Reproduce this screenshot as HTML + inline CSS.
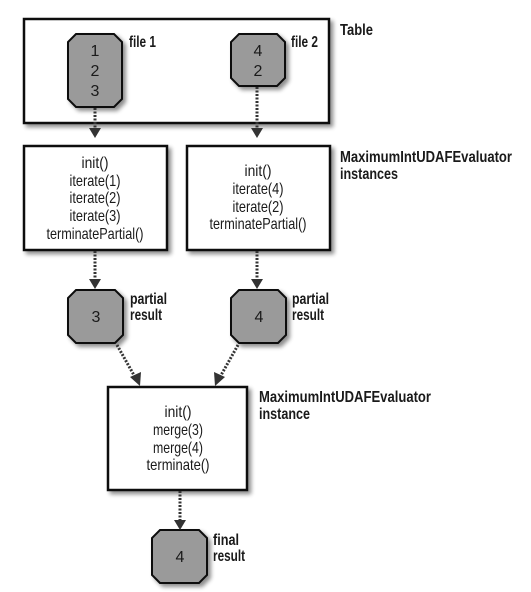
<!DOCTYPE html>
<html><head><meta charset="utf-8"><style>
html,body{margin:0;padding:0;background:#fff;}
svg{display:block;}
text{font-family:"Liberation Sans",sans-serif;fill:#1a1a1a;}
.b{font-weight:bold;font-size:16px;}
.n{font-size:16px;}
</style></head><body>
<svg width="531" height="592" viewBox="0 0 531 592" xmlns="http://www.w3.org/2000/svg">
<defs>
<filter id="sh" x="-10%" y="-10%" width="130%" height="130%">
<feGaussianBlur in="SourceAlpha" stdDeviation="2"/>
<feOffset dx="3" dy="3"/>
<feComponentTransfer><feFuncA type="linear" slope="0.45"/></feComponentTransfer>
<feMerge><feMergeNode/><feMergeNode in="SourceGraphic"/></feMerge>
</filter>
</defs>
<g stroke="#111" stroke-width="2.5" fill="#fff" filter="url(#sh)">
<rect x="24" y="19" width="305" height="104"/>
<rect x="24" y="146" width="143" height="104"/>
<rect x="187" y="146" width="143" height="104"/>
<rect x="108" y="387" width="139" height="103"/>
</g>
<g stroke="#111" stroke-width="2" fill="#9a9a9a" filter="url(#sh)">
<polygon points="76,34 114,34 122,42 122,99 114,107 76,107 68,99 68,42"/>
<polygon points="239,34 277,34 285,42 285,78 277,86 239,86 231,78 231,42"/>
<polygon points="76,290 115,290 123,298 123,335 115,343 76,343 68,335 68,298"/>
<polygon points="239,290 278,290 286,298 286,335 278,343 239,343 231,335 231,298"/>
<polygon points="160,530 199,530 207,538 207,575 199,583 160,583 152,575 152,538"/>
</g>
<g stroke="#333" stroke-width="3" stroke-dasharray="2,1.5" fill="none">
<line x1="95" y1="108" x2="95" y2="129"/>
<line x1="257" y1="87" x2="257" y2="129"/>
<line x1="95" y1="251" x2="95" y2="280"/>
<line x1="257" y1="251" x2="257" y2="280"/>
<line x1="117" y1="345" x2="135" y2="377"/>
<line x1="238" y1="345" x2="220" y2="377"/>
<line x1="180" y1="491" x2="180" y2="521"/>
</g>
<g fill="#333">
<polygon points="89,128 101,128 95,138"/>
<polygon points="251,128 263,128 257,138"/>
<polygon points="89,279 101,279 95,289"/>
<polygon points="251,279 263,279 257,289"/>
<polygon points="130,377 141,372 140,386"/>
<polygon points="225,377 214,372 215,386"/>
<polygon points="174,520 186,520 180,530"/>
</g>
<g class="n" text-anchor="middle" lengthAdjust="spacingAndGlyphs">
<text x="95" y="56">1</text><text x="95" y="76">2</text><text x="95" y="96">3</text>
<text x="258" y="56">4</text><text x="258" y="76">2</text>
<text x="96" y="322">3</text><text x="259" y="322">4</text>
<text x="180" y="562">4</text>
<text x="95" y="168" textLength="27" lengthAdjust="spacingAndGlyphs">init()</text>
<text x="95" y="186" textLength="51" lengthAdjust="spacingAndGlyphs">iterate(1)</text>
<text x="95" y="203" textLength="51" lengthAdjust="spacingAndGlyphs">iterate(2)</text>
<text x="95" y="221" textLength="51" lengthAdjust="spacingAndGlyphs">iterate(3)</text>
<text x="95" y="239" textLength="97" lengthAdjust="spacingAndGlyphs">terminatePartial()</text>
<text x="258" y="176" textLength="27" lengthAdjust="spacingAndGlyphs">init()</text>
<text x="258" y="194" textLength="51" lengthAdjust="spacingAndGlyphs">iterate(4)</text>
<text x="258" y="212" textLength="51" lengthAdjust="spacingAndGlyphs">iterate(2)</text>
<text x="258" y="229" textLength="97" lengthAdjust="spacingAndGlyphs">terminatePartial()</text>
<text x="178" y="417" textLength="27" lengthAdjust="spacingAndGlyphs">init()</text>
<text x="178" y="435" textLength="50" lengthAdjust="spacingAndGlyphs">merge(3)</text>
<text x="178" y="453" textLength="50" lengthAdjust="spacingAndGlyphs">merge(4)</text>
<text x="178" y="470" textLength="63" lengthAdjust="spacingAndGlyphs">terminate()</text>
</g>
<g class="b">
<text x="340" y="35" textLength="33" lengthAdjust="spacingAndGlyphs">Table</text>
<text x="129" y="47" textLength="27" lengthAdjust="spacingAndGlyphs">file 1</text>
<text x="291" y="47" textLength="27" lengthAdjust="spacingAndGlyphs">file 2</text>
<text x="340" y="162" textLength="172" lengthAdjust="spacingAndGlyphs">MaximumIntUDAFEvaluator</text>
<text x="340" y="179" textLength="58" lengthAdjust="spacingAndGlyphs">instances</text>
<text x="130" y="304" textLength="37" lengthAdjust="spacingAndGlyphs">partial</text>
<text x="130" y="320" textLength="32" lengthAdjust="spacingAndGlyphs">result</text>
<text x="292" y="304" textLength="37" lengthAdjust="spacingAndGlyphs">partial</text>
<text x="292" y="320" textLength="32" lengthAdjust="spacingAndGlyphs">result</text>
<text x="259" y="402" textLength="172" lengthAdjust="spacingAndGlyphs">MaximumIntUDAFEvaluator</text>
<text x="259" y="419" textLength="51" lengthAdjust="spacingAndGlyphs">instance</text>
<text x="213" y="545" textLength="26" lengthAdjust="spacingAndGlyphs">final</text>
<text x="213" y="561" textLength="32" lengthAdjust="spacingAndGlyphs">result</text>
</g>
</svg>
</body></html>
